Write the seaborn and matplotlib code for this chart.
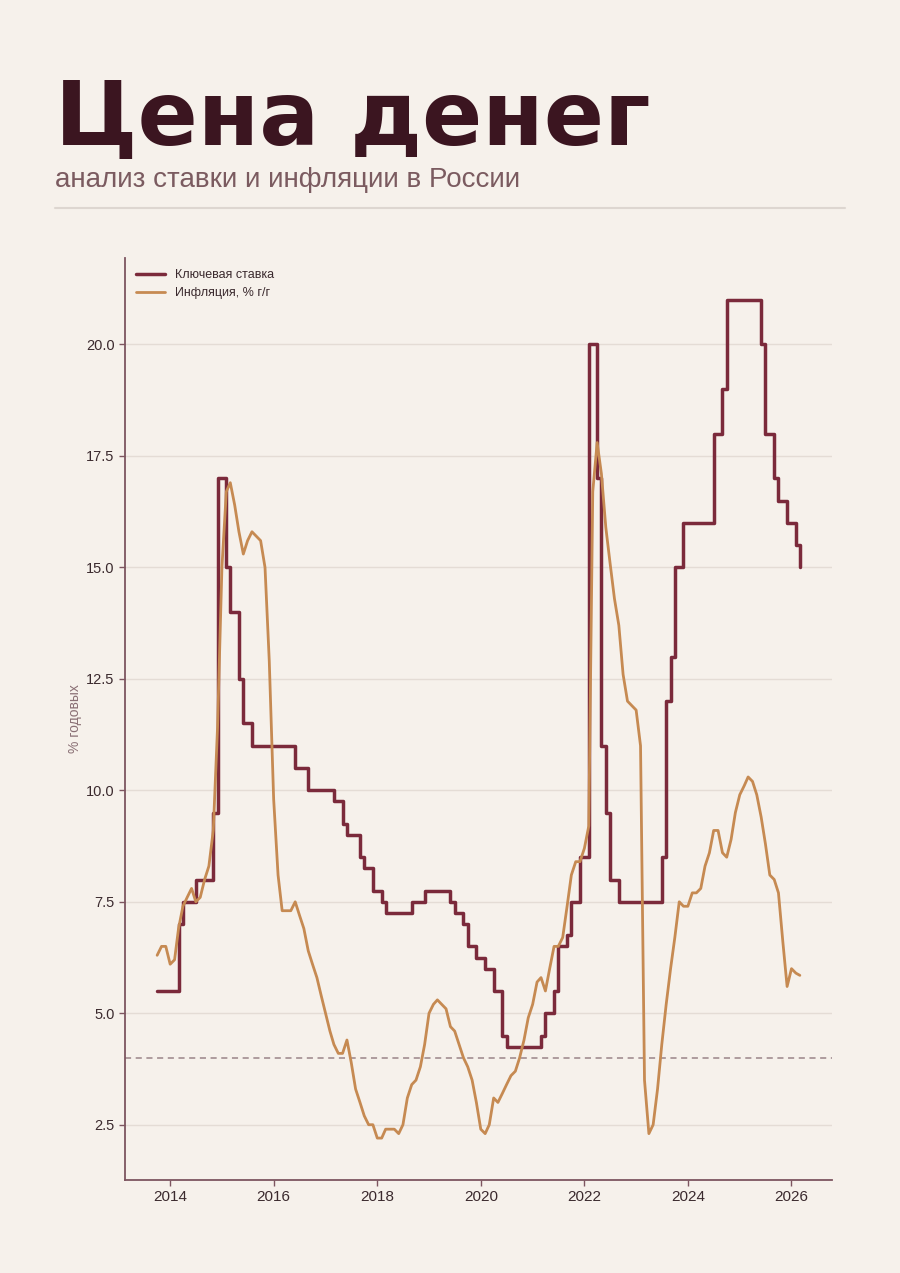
import numpy as np
import pandas as pd
import matplotlib.pyplot as plt
import matplotlib.dates as mdates
from matplotlib.lines import Line2D
from matplotlib.ticker import MultipleLocator, FormatStrFormatter
import seaborn as sns

# monthly data, Oct 2013 - Mar 2026
months = pd.date_range("2013-10-01", "2026-03-01", freq="MS")

# key rate, % (end of month)
key_rate = [
    5.5, 5.5, 5.5,
    5.5, 5.5, 7.0, 7.5, 7.5, 7.5, 8.0, 8.0, 8.0, 8.0, 9.5, 17.0,
    17.0, 15.0, 14.0, 14.0, 12.5, 11.5, 11.5, 11.0, 11.0, 11.0, 11.0, 11.0,
    11.0, 11.0, 11.0, 11.0, 11.0, 10.5, 10.5, 10.5, 10.0, 10.0, 10.0, 10.0,
    10.0, 10.0, 9.75, 9.75, 9.25, 9.0, 9.0, 9.0, 8.5, 8.25, 8.25, 7.75,
    7.75, 7.5, 7.25, 7.25, 7.25, 7.25, 7.25, 7.25, 7.5, 7.5, 7.5, 7.75,
    7.75, 7.75, 7.75, 7.75, 7.75, 7.5, 7.25, 7.25, 7.0, 6.5, 6.5, 6.25,
    6.25, 6.0, 6.0, 5.5, 5.5, 4.5, 4.25, 4.25, 4.25, 4.25, 4.25, 4.25,
    4.25, 4.25, 4.5, 5.0, 5.0, 5.5, 6.5, 6.5, 6.75, 7.5, 7.5, 8.5,
    8.5, 20.0, 20.0, 17.0, 11.0, 9.5, 8.0, 8.0, 7.5, 7.5, 7.5, 7.5,
    7.5, 7.5, 7.5, 7.5, 7.5, 7.5, 8.5, 12.0, 13.0, 15.0, 15.0, 16.0,
    16.0, 16.0, 16.0, 16.0, 16.0, 16.0, 18.0, 18.0, 19.0, 21.0, 21.0, 21.0,
    21.0, 21.0, 21.0, 21.0, 21.0, 20.0, 18.0, 18.0, 17.0, 16.5, 16.5, 16.0,
    16.0, 15.5, 15.0,
]

# CPI, % y/y
inflation = [
    6.3, 6.5, 6.5,
    6.1, 6.2, 6.9, 7.4, 7.6, 7.8, 7.5, 7.6, 8.0, 8.3, 9.1, 11.4,
    15.0, 16.7, 16.9, 16.4, 15.8, 15.3, 15.6, 15.8, 15.7, 15.6, 15.0, 12.9,
    9.8, 8.1, 7.3, 7.3, 7.3, 7.5, 7.2, 6.9, 6.4, 6.1, 5.8, 5.4,
    5.0, 4.6, 4.3, 4.1, 4.1, 4.4, 3.9, 3.3, 3.0, 2.7, 2.5, 2.5,
    2.2, 2.2, 2.4, 2.4, 2.4, 2.3, 2.5, 3.1, 3.4, 3.5, 3.8, 4.3,
    5.0, 5.2, 5.3, 5.2, 5.1, 4.7, 4.6, 4.3, 4.0, 3.8, 3.5, 3.0,
    2.4, 2.3, 2.5, 3.1, 3.0, 3.2, 3.4, 3.6, 3.7, 4.0, 4.4, 4.9,
    5.2, 5.7, 5.8, 5.5, 6.0, 6.5, 6.5, 6.7, 7.4, 8.1, 8.4, 8.4,
    8.7, 9.2, 16.7, 17.8, 17.1, 15.9, 15.1, 14.3, 13.7, 12.6, 12.0, 11.9,
    11.8, 11.0, 3.5, 2.3, 2.5, 3.3, 4.3, 5.2, 6.0, 6.7, 7.5, 7.4,
    7.4, 7.7, 7.7, 7.8, 8.3, 8.6, 9.1, 9.1, 8.6, 8.5, 8.9, 9.5,
    9.9, 10.1, 10.3, 10.2, 9.9, 9.4, 8.8, 8.1, 8.0, 7.7, 6.6, 5.6,
    6.0, 5.9, 5.85,
]

target = 4.0

df = pd.DataFrame({"date": months, "rate": key_rate, "cpi": inflation})

bg = "#f6f1eb"
rate_color = "#7b2a3b"
cpi_color = "#c68a52"
spine_color = "#7d5560"
text_dark = "#3b2a2e"

sns.set_theme(style="ticks")
plt.rcParams["font.family"] = ["Liberation Sans", "DejaVu Sans"]

fig = plt.figure(figsize=(9, 12.73), dpi=100, facecolor=bg)
ax = fig.add_axes([125 / 900, 1 - 1180 / 1273, 707 / 900, 922 / 1273])
ax.set_facecolor(bg)

sns.lineplot(data=df, x="date", y="rate", ax=ax, color=rate_color, lw=2.5,
             drawstyle="steps-post", label="Ключевая ставка")
sns.lineplot(data=df, x="date", y="cpi", ax=ax, color=cpi_color, lw=2.0,
             label="Инфляция, % г/г")
ax.axhline(target, color="#9a8488", lw=1.1, ls=(0, (4, 3)), zorder=1)

ax.yaxis.set_major_locator(MultipleLocator(2.5))
ax.yaxis.set_major_formatter(FormatStrFormatter("%.1f"))
ax.xaxis.set_major_locator(mdates.YearLocator(2))
ax.xaxis.set_major_formatter(mdates.DateFormatter("%Y"))

ax.yaxis.grid(True, color="#e4dcd5", lw=1)
ax.xaxis.grid(False)
for s in ["top", "right"]:
    ax.spines[s].set_visible(False)
for s in ["left", "bottom"]:
    ax.spines[s].set_color(spine_color)
    ax.spines[s].set_linewidth(1.3)
ax.tick_params(colors=spine_color, labelcolor=text_dark, labelsize=10.5,
               length=4, width=1)
ax.tick_params(axis="x", labelsize=11)

ax.set_xlabel("")
ax.set_ylabel("% годовых", color="#8a7075", fontsize=10, labelpad=3)

ax.legend(loc="upper left", frameon=False, fontsize=9, handlelength=2.3,
          labelcolor=text_dark)

# header
fig.text(55 / 900, 1 - 145 / 1273, "Цена денег", fontsize=64,
         fontweight="bold", family="DejaVu Sans", color="#3b1520",
         va="baseline", ha="left")
fig.text(55 / 900, 1 - 187 / 1273, "анализ ставки и инфляции в России",
         fontsize=20, color="#7b5b60", va="baseline", ha="left")
fig.add_artist(Line2D([55 / 900, 845 / 900], [1 - 208 / 1273] * 2,
                      transform=fig.transFigure, color="#ddd6d0", lw=1.5))

fig.savefig("out.png", dpi=100, facecolor=bg)
